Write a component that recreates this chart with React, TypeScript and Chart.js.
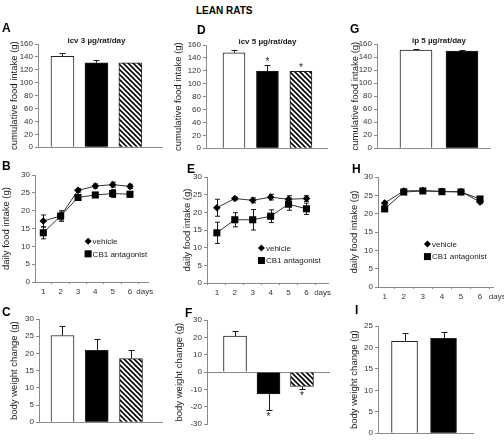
import React, { useEffect, useRef } from "react";
import { Chart, registerables } from "chart.js";

Chart.register(...registerables);

const FONT = "'Liberation Sans', Arial, Helvetica, sans-serif";
const AXIS = "#8a8a8a";
const TICK_TEXT = "#333333";
const INK = "#1a1a1a";

// ---------------- data ----------------
const groupsIcv = ["vehicle", "CB1 antagonist", "pair-fed"];
const groupsIp = ["vehicle", "CB1 antagonist"];

const cumIntakeA = [141, 131, 131];
const cumIntakeErrA = [4.5, 3.5, 0];
const cumIntakeD = [148, 119.5, 119];
const cumIntakeErrD = [4, 9, 0.8];
const cumIntakeG = [150.5, 149];
const cumIntakeErrG = [1.8, 1.8];
const sigD = ["", "*", "*"];

const days = [1, 2, 3, 4, 5, 6];
const dailyVehicleB = [17.1, 18.5, 25.7, 26.9, 27.3, 26.8];
const dailyVehicleErrB = [1.7, 1.1, 0.5, 0.6, 0.7, 0.6];
const dailyAntagB = [13.8, 18.5, 23.7, 24.4, 24.8, 24.6];
const dailyAntagErrB = [1.7, 1.5, 0.7, 0.7, 1.1, 0.8];

const dailyVehicleE = [21.3, 23.9, 23.4, 24.3, 23.7, 23.9];
const dailyVehicleErrE = [2.4, 0.4, 0.7, 0.8, 1.0, 0.8];
const dailyAntagE = [14.2, 17.9, 17.9, 18.9, 22.3, 21.0];
const dailyAntagErrE = [3.0, 2.0, 2.9, 1.8, 1.7, 1.6];

const dailyVehicleH = [22.9, 26.2, 26.3, 26.1, 26.0, 23.2];
const dailyVehicleErrH = [0.5, 0.5, 0.5, 0.4, 0.4, 0.5];
const dailyAntagH = [21.3, 25.9, 26.2, 26.0, 25.9, 24.0];
const dailyAntagErrH = [0.5, 0.5, 0.4, 0.4, 0.4, 0.5];

const bodyWeightC = [25.2, 20.9, 18.5];
const bodyWeightErrC = [2.7, 3.3, 2.6];
const bodyWeightF = [20.8, -12.6, -8.3];
const bodyWeightErrF = [2.8, 9.4, 1.5];
const sigF = ["", "*", "*"];
const bodyWeightI = [21.4, 22.1];
const bodyWeightErrI = [1.9, 1.4];

const seriesNames = ["vehicle", "CB1 antagonist"];
const daysWord = "days";
const figureTitle = "LEAN RATS";

// ---------------- panel layout ----------------
type BarPanel = {
  kind: "bar";
  letter: string;
  groups: string[];
  values: number[];
  errors: number[];
  sig?: string[];
  title?: string;
  yTitle: string;
  yMin: number;
  yMax: number;
  yStep: number;
  L: number; R: number; T: number; B: number; d: number;
  xMin: number; xMax: number; barW: number;
  zeroLine?: boolean;
};
type LinePanel = {
  kind: "line";
  letter: string;
  vehicle: number[];
  vehicleErr: number[];
  antag: number[];
  antagErr: number[];
  yTitle: string;
  yMin: number; yMax: number; yStep: number;
  L: number; R: number; T: number; B: number; d: number;
  xMin: number; xMax: number; daysAt: number;
  legendX: number; legendY: number;
};
type Panel = BarPanel | LinePanel;

const panels: Panel[] = [
  { kind: "bar", letter: "A", groups: groupsIcv, values: cumIntakeA, errors: cumIntakeErrA,
    title: "icv 3 µg/rat/day", yTitle: "cumulative food intake (g)", yMin: 0, yMax: 160, yStep: 20,
    L: 38, R: 162, T: 44, B: 149, d: 23, xMin: 0.28, xMax: 3.93, barW: 23 },
  { kind: "bar", letter: "D", groups: groupsIcv, values: cumIntakeD, errors: cumIntakeErrD, sig: sigD,
    title: "icv 5 µg/rat/day", yTitle: "cumulative food intake (g)", yMin: 0, yMax: 160, yStep: 20,
    L: 206, R: 327, T: 45, B: 150, d: 27, xMin: 0.164, xMax: 3.78, barW: 22 },
  { kind: "bar", letter: "G", groups: groupsIp, values: cumIntakeG, errors: cumIntakeErrG,
    title: "ip 5 µg/rat/day", yTitle: "cumulative food intake (g)", yMin: 0, yMax: 160, yStep: 20,
    L: 377, R: 490, T: 44, B: 150, d: 21, xMin: 0.152, xMax: 2.61, barW: 32 },
  { kind: "line", letter: "B", vehicle: dailyVehicleB, vehicleErr: dailyVehicleErrB,
    antag: dailyAntagB, antagErr: dailyAntagErrB, yTitle: "daily food intake (g)",
    yMin: 0, yMax: 30, yStep: 5, L: 35, R: 148, T: 175, B: 282, d: 28,
    xMin: 0.52, xMax: 7.04, daysAt: 6.85, legendX: 0.47, legendY: 0.62 },
  { kind: "line", letter: "E", vehicle: dailyVehicleE, vehicleErr: dailyVehicleErrE,
    antag: dailyAntagE, antagErr: dailyAntagErrE, yTitle: "daily food intake (g)",
    yMin: 0, yMax: 30, yStep: 5, L: 207, R: 328, T: 177, B: 283, d: 19,
    xMin: 0.45, xMax: 7.2, daysAt: 6.9, legendX: 0.45, legendY: 0.67 },
  { kind: "line", letter: "H", vehicle: dailyVehicleH, vehicleErr: dailyVehicleErrH,
    antag: dailyAntagH, antagErr: dailyAntagErrH, yTitle: "daily food intake (g)",
    yMin: 0, yMax: 30, yStep: 5, L: 378, R: 493, T: 177, B: 287, d: 23,
    xMin: 0.65, xMax: 6.68, daysAt: 6.9, legendX: 0.43, legendY: 0.61 },
  { kind: "bar", letter: "C", groups: groupsIcv, values: bodyWeightC, errors: bodyWeightErrC,
    yTitle: "body weight change (g)", yMin: 0, yMax: 30, yStep: 5,
    L: 39, R: 162, T: 319, B: 424, d: 24, xMin: 0.314, xMax: 3.905, barW: 23 },
  { kind: "bar", letter: "F", groups: groupsIcv, values: bodyWeightF, errors: bodyWeightErrF, sig: sigF,
    yTitle: "body weight change (g)", yMin: -30, yMax: 30, yStep: 10,
    L: 207, R: 330, T: 320, B: 426, d: 27, xMin: 0.164, xMax: 3.836, barW: 23, zeroLine: true },
  { kind: "bar", letter: "I", groups: groupsIp, values: bodyWeightI, errors: bodyWeightErrI,
    yTitle: "body weight change (g)", yMin: 0, yMax: 25, yStep: 5,
    L: 378, R: 473, T: 326, B: 435, d: 23, xMin: 0.32, xMax: 2.756, barW: 26 },
];

const letterPos: Record<string, [number, number]> = {
  A: [2, 28], D: [197, 30], G: [350, 29],
  B: [2, 166], E: [187, 169], H: [352, 169],
  C: [2, 312], F: [185, 313], I: [355, 310],
};

const Y_TITLE_SIZE = 9.5;

// ---------------- helpers ----------------
function makeHatch(): CanvasPattern | string {
  const s = 5;
  const c = document.createElement("canvas");
  c.width = s;
  c.height = s;
  const g = c.getContext("2d");
  if (!g) return "#888";
  g.fillStyle = "#fff";
  g.fillRect(0, 0, s, s);
  g.strokeStyle = "#000";
  g.lineWidth = 1.6;
  g.beginPath();
  g.moveTo(-1, -1);
  g.lineTo(s + 1, s + 1);
  g.moveTo(-1, s - 1);
  g.lineTo(1, s + 1);
  g.moveTo(s - 1, -1);
  g.lineTo(s + 1, 1);
  g.stroke();
  return g.createPattern(c, "repeat") || "#888";
}

function geometry(p: Panel) {
  const yW = p.d + Math.round((Y_TITLE_SIZE * 1.2) / 2);
  const PT = 10;
  const PR = p.kind === "line" ? 16 : 6;
  const PB = 2;
  const xH = p.kind === "line" ? 18 : 3;
  const left = p.L - yW;
  const top = p.T - PT;
  const w = yW + (p.R - p.L) + PR;
  const h = p.B - p.T + PT + xH + PB;
  return { yW, PT, PR, PB, xH, left, top, w, h };
}

function diamond(ctx: CanvasRenderingContext2D, x: number, y: number, r: number) {
  ctx.beginPath();
  ctx.moveTo(x, y - r);
  ctx.lineTo(x + r, y);
  ctx.lineTo(x, y + r);
  ctx.lineTo(x - r, y);
  ctx.closePath();
  ctx.fill();
}

function extrasPlugin(p: Panel) {
  const errorsFor = (): number[][] =>
    p.kind === "bar" ? [p.errors] : [p.antagErr, p.vehicleErr];
  const valuesFor = (): number[][] =>
    p.kind === "bar" ? [p.values] : [p.antag, p.vehicle];

  const drawErrors = (chart: any) => {
    const ctx: CanvasRenderingContext2D = chart.ctx;
    const ys = chart.scales.y;
    const errs = errorsFor();
    const vals = valuesFor();
    ctx.save();
    ctx.strokeStyle = INK;
    ctx.lineWidth = 1;
    errs.forEach((eArr, di) => {
      const meta = chart.getDatasetMeta(di);
      meta.data.forEach((el: any, i: number) => {
        const e = eArr[i];
        const v = vals[di][i];
        if (!e) return;
        const x = Math.round(el.x) + 0.5;
        const cap = p.kind === "bar" ? 3 : 2.5;
        ctx.beginPath();
        if (p.kind === "line") {
          const y1 = ys.getPixelForValue(v + e);
          const y2 = ys.getPixelForValue(v - e);
          ctx.moveTo(x, y1); ctx.lineTo(x, y2);
          ctx.moveTo(x - cap, y1); ctx.lineTo(x + cap, y1);
          ctx.moveTo(x - cap, y2); ctx.lineTo(x + cap, y2);
        } else {
          const y0 = ys.getPixelForValue(v);
          const y1 = Math.round(ys.getPixelForValue(v >= 0 ? v + e : v - e)) + 0.5;
          ctx.moveTo(x, y0); ctx.lineTo(x, y1);
          ctx.moveTo(x - cap, y1); ctx.lineTo(x + cap, y1);
        }
        ctx.stroke();
      });
    });
    ctx.restore();
  };

  return {
    id: "extras" + p.letter,
    beforeDatasetsDraw(chart: any) {
      if (p.kind === "line") drawErrors(chart);
    },
    afterDatasetsDraw(chart: any) {
      const ctx: CanvasRenderingContext2D = chart.ctx;
      const ys = chart.scales.y;
      const xs = chart.scales.x;
      const area = chart.chartArea;
      if (p.kind === "bar") {
        drawErrors(chart);
        const meta = chart.getDatasetMeta(0);
        ctx.save();
        ctx.fillStyle = INK;
        ctx.textAlign = "center";
        ctx.textBaseline = "middle";
        if (p.sig) {
          ctx.font = `10px ${FONT}`;
          p.sig.forEach((s, i) => {
            if (!s) return;
            const v = p.values[i];
            const e = p.errors[i];
            const x = meta.data[i].x;
            if (v >= 0) {
              ctx.fillText(s, x, ys.getPixelForValue(v + e) - 3);
            } else {
              ctx.fillText(s, x, ys.getPixelForValue(v - e) + 7);
            }
          });
        }
        if (p.title) {
          ctx.font = `bold 8px ${FONT}`;
          const xsPix = meta.data.map((el: any) => el.x);
          const cx = xsPix.reduce((a: number, b: number) => a + b, 0) / xsPix.length;
          ctx.fillText(p.title, cx, area.top - 3);
        }
        ctx.restore();
      } else {
        ctx.save();
        ctx.fillStyle = TICK_TEXT;
        ctx.font = `8px ${FONT}`;
        ctx.textAlign = "center";
        ctx.textBaseline = "top";
        ctx.fillText(daysWord, xs.getPixelForValue(p.daysAt), xs.top + 6);
        // legend
        const lx = area.left + p.legendX * (area.right - area.left);
        const ly = area.top + p.legendY * (area.bottom - area.top);
        ctx.fillStyle = "#000";
        diamond(ctx, lx, ly, 3.5);
        ctx.fillRect(lx - 3.5, ly + 12.5 - 3.5, 7, 7);
        ctx.fillStyle = INK;
        ctx.textAlign = "left";
        ctx.textBaseline = "middle";
        ctx.fillText(seriesNames[0], lx + 4.5, ly + 0.5);
        ctx.fillText(seriesNames[1], lx + 4.5, ly + 13);
        ctx.restore();
      }
    },
  };
}

function yScale(p: Panel, yW: number) {
  return {
    type: "linear",
    min: p.yMin,
    max: p.yMax,
    ticks: {
      stepSize: p.yStep,
      font: { family: FONT, size: 8 },
      color: TICK_TEXT,
      padding: 2,
    },
    grid: {
      display: true,
      drawOnChartArea: p.kind === "bar" && !!p.zeroLine,
      color: (c: any) => (c.tick && c.tick.value === 0 ? AXIS : "rgba(0,0,0,0)"),
      tickColor: AXIS,
      tickLength: 3,
      lineWidth: 1,
    },
    border: { display: true, color: AXIS, width: 1 },
    title: {
      display: true,
      text: p.yTitle,
      font: { family: FONT, size: Y_TITLE_SIZE },
      color: INK,
      padding: 0,
    },
    afterFit: (s: any) => {
      s.width = yW;
    },
  };
}

function buildConfig(p: Panel, hatch: CanvasPattern | string): any {
  const g = geometry(p);
  const layout = { padding: { left: 0, top: g.PT, right: g.PR, bottom: g.PB } };
  const common = {
    responsive: false,
    animation: false,
    events: [],
    layout,
    plugins: { legend: { display: false }, tooltip: { enabled: false }, title: { display: false } },
  };
  if (p.kind === "bar") {
    const fills = p.values.map((_, i) => (i === 0 ? "#ffffff" : i === 1 ? "#000000" : hatch));
    return {
      type: "bar",
      data: {
        datasets: [
          {
            label: p.title || p.yTitle,
            data: p.groups.map((_, i) => ({ x: i + 1, y: p.values[i] })),
            backgroundColor: fills,
            borderColor: "#222222",
            borderWidth: 1,
            barThickness: p.barW,
          },
        ],
      },
      options: {
        ...common,
        scales: {
          x: {
            type: "linear",
            min: p.xMin,
            max: p.xMax,
            offset: false,
            ticks: { display: false },
            grid: { display: false },
            border: { display: !p.zeroLine, color: AXIS, width: 1 },
            afterFit: (s: any) => {
              s.height = g.xH;
            },
          },
          y: yScale(p, g.yW),
        },
      },
      plugins: [extrasPlugin(p)],
    };
  }
  const lineDs = (label: string, vals: number[], style: string, r: number, order: number) => ({
    label,
    data: days.map((d, i) => ({ x: d, y: vals[i] })),
    borderColor: "#333333",
    borderWidth: 1,
    pointStyle: style,
    pointRadius: r,
    pointBackgroundColor: "#000000",
    pointBorderColor: "#000000",
    pointBorderWidth: 0,
    fill: false,
    tension: 0,
    order,
  });
  return {
    type: "line",
    data: {
      datasets: [
        lineDs(seriesNames[1], p.antag, "rect", 5, 1),
        lineDs(seriesNames[0], p.vehicle, "rectRot", 3.8, 2),
      ],
    },
    options: {
      ...common,
      scales: {
        x: {
          type: "linear",
          min: p.xMin,
          max: p.xMax,
          afterBuildTicks: (s: any) => {
            s.ticks = days.map((v) => ({ value: v }));
          },
          ticks: {
            font: { family: FONT, size: 8 },
            color: TICK_TEXT,
            padding: 3,
            autoSkip: false,
            maxRotation: 0,
          },
          grid: { display: true, drawOnChartArea: false, offset: true, tickLength: 2, tickColor: AXIS },
          border: { display: true, color: AXIS, width: 1 },
          afterFit: (s: any) => {
            s.height = g.xH;
          },
        },
        y: yScale(p, g.yW),
      },
    },
    plugins: [extrasPlugin(p)],
  };
}

function PanelChart({ p }: { p: Panel }) {
  const ref = useRef<HTMLCanvasElement>(null);
  const g = geometry(p);
  useEffect(() => {
    if (!ref.current) return;
    const chart = new Chart(ref.current, buildConfig(p, makeHatch()));
    return () => chart.destroy();
  }, []);
  return (
    <canvas
      ref={ref}
      width={g.w}
      height={g.h}
      style={{ position: "absolute", left: g.left, top: g.top, width: g.w, height: g.h }}
    />
  );
}

export default function App() {
  return (
    <div
      style={{
        position: "fixed",
        left: 0,
        top: 0,
        width: 504,
        height: 440,
        overflow: "hidden",
        background: "#ffffff",
        fontFamily: FONT,
      }}
    >
      {panels.map((p) => (
        <PanelChart key={p.letter} p={p} />
      ))}
      <div
        style={{
          position: "absolute",
          left: 196,
          top: 5,
          fontSize: 10,
          lineHeight: "12px",
          fontWeight: "bold",
          color: "#000",
          whiteSpace: "nowrap",
        }}
      >
        {figureTitle}
      </div>
      {panels.map((p) => (
        <div
          key={"l" + p.letter}
          style={{
            position: "absolute",
            left: letterPos[p.letter][0],
            top: letterPos[p.letter][1] - 7,
            fontSize: 12,
            lineHeight: "14px",
            fontWeight: "bold",
            color: "#000",
          }}
        >
          {p.letter}
        </div>
      ))}
    </div>
  );
}
